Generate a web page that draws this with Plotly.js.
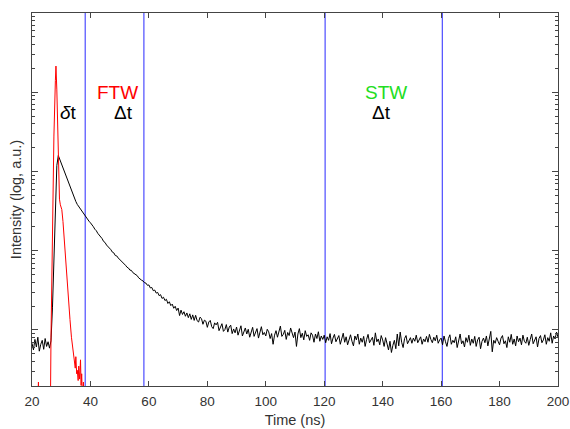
<!DOCTYPE html>
<html>
<head>
<meta charset="utf-8">
<script src="https://cdn.plot.ly/plotly-3.0.1.min.js"></script>
<style>html,body{margin:0;padding:0;background:#fff;}#chart{width:570px;height:429px;}</style>
</head>
<body>
<div id="chart"></div>
<script>
// Black trace: luminescence decay, sampled every 0.5 ns from 20 ns to 200 ns
const timeStart = 20;
const timeStep = 0.5;
const decayIntensity = [
  // 20.0 - 26.0
  6.8, 5.6, 7.6, 6.1, 8.1, 5.4, 6.6, 7.4, 5.7, 7.8, 6.2, 7.1, 5.9,
  // 26.5 - 59.0
  7.3, 19, 98, 470, 1190, 1590, 1420, 1290, 1170, 1025,
  890, 800, 705, 632, 560, 503, 455, 418, 384, 360,
  337, 318, 297, 283, 268, 252, 236, 225, 208, 201,
  187, 179, 166, 159, 149, 142, 131, 127, 118, 113,
  105, 103, 96, 94, 87, 86, 81, 78, 74, 71.5,
  68, 65.5, 62, 60.5, 57, 56.5, 53, 51.5, 49.5, 48.5,
  45.5, 44.5, 42.5, 41.5, 39.5, 39.0,
  // 59.5 - 89.5
  36.6, 37.0, 33.9, 34.4, 31.3, 31.9, 29.2, 29.8, 27.1, 27.9,
  25.0, 25.9, 23.5, 24.4, 21.6, 22.7, 20.3, 21.2, 18.8, 19.9,
  17.6, 18.9, 15.2, 17.8, 15.7, 17.0, 14.9, 16.4, 14.3, 16.0,
  13.6, 15.5, 13.2, 15.3, 13.1, 12.6, 14.5, 13.9, 11.8, 13.3,
  12.9, 10.8, 12.6, 13.2, 11.0, 10.4, 12.3, 11.6, 12.5, 9.8,
  11.2, 12.0, 9.6, 10.1, 11.7, 9.4, 10.9, 11.5, 9.0, 10.3,
  9.2,
  // 90.0 - 200.0
  10.9, 8.6, 9.9, 11.3, 8.4, 9.2, 10.6, 8.9, 10.2, 8.1,
  9.8, 10.8, 8.3, 9.1, 10.4, 7.9, 9.6, 11.0, 8.7, 9.3,
  8.4, 10.2, 9.5, 7.8, 9.0, 6.6, 8.6, 9.8, 8.1, 9.4,
  11.2, 8.3, 8.8, 9.9, 7.6, 9.3, 8.5, 10.6, 8.9, 8.0,
  9.4, 6.2, 8.9, 10.4, 8.0, 9.1, 7.5, 9.8, 8.3, 8.7,
  7.4, 9.2, 8.6, 7.0, 8.9, 7.8, 9.5, 7.2, 8.4, 7.6,
  8.6, 6.9, 8.2, 7.4, 9.0, 6.7, 7.9, 8.8, 7.1, 7.7,
  8.5, 6.6, 7.8, 9.1, 7.0, 8.2, 6.5, 7.6, 8.7, 7.2,
  6.3, 8.4, 7.5, 8.9, 6.6, 7.9, 7.0, 8.3, 6.2, 7.6,
  8.8, 6.9, 7.4, 8.1, 6.4, 9.2, 7.1, 7.7, 6.5, 8.5,
  7.5, 6.2, 8.0, 6.6, 5.6, 7.2, 5.2, 6.4, 7.4, 5.8,
  8.9, 6.3, 9.4, 7.0, 6.0, 7.8, 8.5, 6.7, 7.3, 8.0,
  6.8, 7.9, 7.2, 8.6, 6.9, 7.5, 8.2, 6.6, 7.7, 7.1,
  8.3, 7.0, 8.8, 7.6, 6.9, 8.1, 7.3, 8.6, 6.8, 7.5,
  7.9, 6.5, 8.4, 7.1, 6.2, 7.8, 8.7, 6.6, 7.4, 6.9,
  8.2, 6.0, 7.6, 8.9, 6.7, 7.3, 6.1, 8.0, 7.0, 8.6,
  6.4, 7.7, 6.8, 8.3, 6.2, 7.5, 8.1, 5.8, 7.2, 7.9,
  6.9, 8.4, 6.3, 7.6, 9.6, 5.3, 7.4, 6.8, 8.0, 7.2,
  6.5, 7.9, 8.5, 6.7, 7.3, 6.0, 8.2, 7.0, 8.8, 6.6,
  7.7, 6.3, 8.4, 7.1, 7.9, 6.5, 8.6, 7.2, 6.8, 8.1,
  6.4, 7.6, 8.9, 6.7, 7.4, 8.2, 6.1, 7.8, 8.5, 6.9,
  7.5, 8.7, 6.6, 8.0, 7.2, 9.2, 6.8, 8.4, 7.7, 9.4, 8.1
];

// Red trace: excitation pulse
const pulseTime = [20, 21.8, 22.2, 22.6, 26.0, 26.3, 26.5, 27.0, 27.5, 28.0, 28.2, 28.5, 28.8, 29.1, 29.4, 29.7, 30.2, 30.6, 31.0, 31.5, 32.0, 32.5, 33.0, 33.5, 34.0, 34.5, 34.8, 35.0, 35.3, 35.5, 35.8, 36.0, 36.3, 36.6, 36.8, 37.0, 37.3, 37.6, 37.9, 40];
const pulseIntensity = [0.8, 0.8, 2.2, 0.8, 0.8, 1.0, 8, 250, 2800, 14100, 21400, 10700, 2500, 980, 447, 380, 331, 234, 138, 83, 43, 24, 13.5, 8.1, 5.6, 4.2, 3.3, 4.6, 2.8, 3.1, 2.3, 3.5, 2.4, 4.2, 2.0, 2.8, 1.26, 2.2, 1.0, 0.8];

// Time-window boundaries (ns)
const windowEdges = [38.2, 58.3, 120.3, 160.4];

// Labels
const labelText = ['<i>δ</i>t', 'FTW', 'Δt', 'STW', 'Δt'];
const labelTime = [32.4, 49.2, 51.3, 141.3, 139.6];
const labelIntensity = [5500, 10000, 5500, 10000, 5500];
const labelColor = ['#000000', '#ff0000', '#000000', '#22dd22', '#000000'];

const xTickValues = [20, 40, 60, 80, 100, 120, 140, 160, 180, 200];

const decayTime = decayIntensity.map((_, i) => timeStart + i * timeStep);

const traces = [
  {x: decayTime, y: decayIntensity, type: 'scatter', mode: 'lines',
   line: {color: '#000000', width: 1}, hoverinfo: 'skip'},
  {x: pulseTime, y: pulseIntensity, type: 'scatter', mode: 'lines',
   line: {color: '#ff0000', width: 1}, hoverinfo: 'skip'}
];

const shapes = windowEdges.map(t => ({
  type: 'line', xref: 'x', yref: 'paper', x0: t, x1: t, y0: 0, y1: 1,
  line: {color: 'rgb(40,40,255)', width: 1}, layer: 'below'
}));

const annotations = labelText.map((txt, i) => ({
  text: txt, x: labelTime[i], y: Math.log10(labelIntensity[i]), xref: 'x', yref: 'y',
  showarrow: false, font: {family: 'Liberation Sans, Arial, sans-serif', size: 19, color: labelColor[i]},
  xanchor: 'center', yanchor: 'middle'
}));

const layout = {
  width: 570, height: 429,
  margin: {l: 32, r: 12, t: 13, b: 43},
  paper_bgcolor: '#ffffff', plot_bgcolor: '#ffffff',
  showlegend: false,
  font: {family: 'Liberation Sans, Arial, sans-serif', size: 13, color: '#333333'},
  xaxis: {
    range: [20, 200], tickvals: xTickValues, ticks: 'inside', ticklen: 5,
    tickcolor: '#444', showline: true, linecolor: '#444', linewidth: 1, mirror: 'ticks',
    showgrid: false, zeroline: false, tickfont: {size: 13.5, color: '#333'},
    ticklabelstandoff: 3,
    title: {text: 'Time (ns)', font: {size: 14.5, color: '#333'}, standoff: 6}
  },
  yaxis: {
    type: 'log', range: [0.293, 5.0], dtick: 1, showticklabels: false,
    ticks: 'inside', ticklen: 6, tickcolor: '#444',
    minor: {ticks: 'inside', ticklen: 3, tickcolor: '#444', dtick: 'D1', showgrid: false},
    showline: true, linecolor: '#444', linewidth: 1, mirror: 'ticks',
    showgrid: false, zeroline: false,
    title: {text: 'Intensity (log, a.u.)', font: {size: 14.5, color: '#333'}, standoff: 5}
  },
  shapes: shapes,
  annotations: annotations
};

Plotly.newPlot('chart', traces, layout, {displayModeBar: false, staticPlot: true});
</script>
</body>
</html>
